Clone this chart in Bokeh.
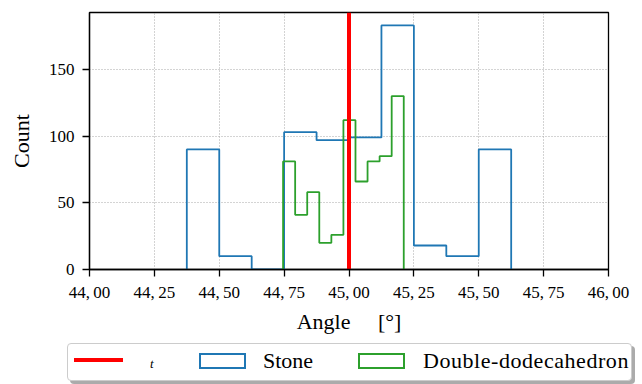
from bokeh.plotting import figure
from bokeh.layouts import column
from bokeh.models import Range1d, FixedTicker, Div
from bokeh.embed import file_html
from bokeh.resources import INLINE

# ---- data -------------------------------------------------------------
TARGET = 45.0
STONE_EDGES = [44.375, 44.5, 44.625, 44.75, 44.875, 45.0, 45.125, 45.25,
               45.375, 45.5, 45.625]
STONE_COUNTS = [90, 10, 0, 103, 97, 99, 183, 18, 10, 90]
DD_EDGES = [44.746, 44.7925, 44.839, 44.8855, 44.932, 44.9785, 45.025,
            45.0715, 45.118, 45.1645, 45.211]
DD_COUNTS = [81, 41, 58, 20, 26, 112, 66, 81, 85, 130]
X_TICKS = [44.0, 44.25, 44.5, 44.75, 45.0, 45.25, 45.5, 45.75, 46.0]
X_TICK_LABELS = ["44,\u200900", "44,\u200925", "44,\u200950", "44,\u200975",
                 "45,\u200900", "45,\u200925", "45,\u200950", "45,\u200975",
                 "46,\u200900"]
Y_TICKS = [0, 50, 100, 150]
X_RANGE = (44.0, 46.0)
Y_RANGE = (0, 192.7)
LABEL_T = "t"
LABEL_STONE = "Stone"
LABEL_DD = "Double-dodecahedron"
X_LABEL = "Angle \u2003[°]"
Y_LABEL = "Count"

FONT = "Liberation Serif"
BLUE = "#1f77b4"
GREEN = "#2ca02c"
RED = "#ff0000"


def step_path(edges, counts):
    xs = [edges[0]]
    ys = [0]
    for i, c in enumerate(counts):
        xs += [edges[i], edges[i + 1]]
        ys += [c, c]
    xs.append(edges[-1])
    ys.append(0)
    return xs, ys


p = figure(width=642, height=336, output_backend="svg", toolbar_location=None,
           x_range=Range1d(*X_RANGE), y_range=Range1d(*Y_RANGE),
           min_border_left=89, min_border_right=34, min_border_top=12,
           min_border_bottom=67)
p.background_fill_color = "white"
p.border_fill_color = "white"
p.outline_line_color = "black"
p.outline_line_width = 1.3

# axes
p.xaxis.ticker = FixedTicker(ticks=X_TICKS)
p.xaxis.major_label_overrides = {t: l for t, l in zip(X_TICKS, X_TICK_LABELS)}
p.yaxis.ticker = FixedTicker(ticks=Y_TICKS)
p.axis.axis_line_color = "black"
p.axis.axis_line_width = 1.3
p.axis.major_tick_line_color = "black"
p.axis.major_tick_line_width = 1.3
p.axis.major_tick_out = 7
p.axis.major_tick_in = 0
p.axis.minor_tick_line_color = None
p.axis.major_label_text_font = FONT
p.axis.major_label_text_font_style = "normal"
p.axis.major_label_text_font_size = "17px"
p.axis.major_label_text_color = "black"
p.axis.axis_label_text_font = FONT
p.axis.axis_label_text_font_size = "22px"
p.axis.axis_label_text_font_style = "normal"
p.axis.axis_label_text_color = "black"
p.xaxis.axis_label = X_LABEL
p.yaxis.axis_label = Y_LABEL
p.xaxis.major_label_standoff = 6
p.yaxis.major_label_standoff = 8
p.xaxis.axis_label_standoff = 4
p.yaxis.axis_label_standoff = 12

p.grid.grid_line_color = "#a8a8a8"
p.grid.grid_line_dash = "1 2"
p.grid.grid_line_width = 1.1

# histograms (step outlines)
sx, sy = step_path(STONE_EDGES, STONE_COUNTS)
dx, dy = step_path(DD_EDGES, DD_COUNTS)
p.line(sx, sy, line_color=BLUE, line_width=1.8)
p.line(dx, dy, line_color=GREEN, line_width=1.8)

# target line
p.line(x=[TARGET, TARGET], y=list(Y_RANGE), line_color=RED, line_width=4)

# ---- legend (below the plot, like matplotlib's bbox_to_anchor legend) ----
font_css = "font-family:'%s',serif;color:black;white-space:nowrap;line-height:1;" % FONT
legend_html = f"""
<div style="position:relative;width:642px;height:48px;">
  <div style="position:absolute;left:67px;top:7px;width:565px;height:38px;
       box-sizing:border-box;border:1.5px solid #cccccc;border-radius:4px;
       background:white;box-shadow:3px 3px 0 rgba(0,0,0,0.33);"></div>
  <div style="position:absolute;left:74px;top:22px;width:49px;height:4px;
       background:{RED};"></div>
  <span style="position:absolute;left:150px;top:21px;font-size:13px;
       font-style:italic;{font_css}">{LABEL_T}</span>
  <div style="position:absolute;left:199px;top:17px;width:47px;height:16px;
       box-sizing:border-box;border:2px solid {BLUE};"></div>
  <span style="position:absolute;left:263px;top:14px;font-size:22px;
       {font_css}">{LABEL_STONE}</span>
  <div style="position:absolute;left:358px;top:17px;width:47px;height:16px;
       box-sizing:border-box;border:2px solid {GREEN};"></div>
  <span style="position:absolute;left:423px;top:14px;font-size:22px;
       letter-spacing:0.55px;{font_css}">{LABEL_DD}</span>
</div>
"""
leg = Div(text=legend_html, width=642, height=48, margin=(0, 0, 0, 0))

layout = column(p, leg, spacing=0)
open("out.html", "w").write(file_html(layout, INLINE))
